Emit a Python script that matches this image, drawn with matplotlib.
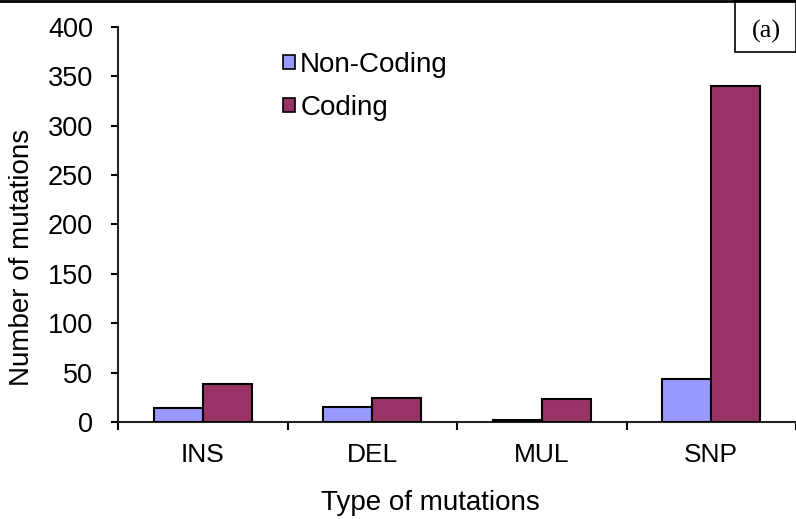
import matplotlib
matplotlib.use("Agg")
import matplotlib.pyplot as plt
import numpy as np
from matplotlib.patches import Rectangle, Patch
from matplotlib.lines import Line2D

categories = ["INS", "DEL", "MUL", "SNP"]
non_coding = [14, 15, 2, 44]
coding = [38, 24, 23, 340]
series_names = ["Non-Coding", "Coding"]
y_ticks = [0, 50, 100, 150, 200, 250, 300, 350, 400]

W, H = 796, 519
plt.rcParams['font.family'] = ['Liberation Sans', 'DejaVu Sans']
fig = plt.figure(figsize=(W / 100, H / 100), dpi=100)
ax = fig.add_axes([118 / W, 1 - 422 / H, (796 - 118) / W, (422 - 27) / H])

x = np.arange(len(categories))
bw = 0.29
c_nc = "#9999FF"
c_c = "#993366"
ax.bar(x - bw / 2, non_coding, bw, color=c_nc, edgecolor="black", linewidth=1.5, zorder=3)
ax.bar(x + bw / 2, coding, bw, color=c_c, edgecolor="black", linewidth=1.5, zorder=3)

ax.set_xlim(-0.5, len(categories) - 0.5)
ax.set_ylim(0, 400)
ax.set_yticks(y_ticks)
ax.set_yticklabels([str(v) for v in y_ticks], fontsize=19.5)
ax.set_xticks(np.arange(len(categories) + 1) - 0.5)
ax.set_xticklabels([])
ax.set_xticks(x, minor=True)
ax.set_xticklabels(categories, minor=True, fontsize=19)
ax.tick_params(axis='x', which='minor', length=0, pad=15)
ax.tick_params(axis='x', which='major', length=6, width=1.5, direction='out')
ax.tick_params(axis='y', length=5, width=1.5, direction='out', pad=13)
for s in ['top', 'right']:
    ax.spines[s].set_visible(False)
for s in ['left', 'bottom']:
    ax.spines[s].set_linewidth(1.5)
    ax.spines[s].set_color("#222222")
ax.spines['left'].set_zorder(4)

fig.text(430 / W, 1 - 503 / H, "Type of mutations", ha='center', va='center', fontsize=20)
fig.text(22 / W, 1 - 257 / H, "Number of mutations", ha='center', va='center',
         rotation=90, fontsize=20)

handles = [Patch(facecolor=c_nc, edgecolor='black', linewidth=1.2),
           Patch(facecolor=c_c, edgecolor='black', linewidth=1.2)]
fig.legend(handles, series_names, loc='upper left', bbox_to_anchor=(283 / W, 1 - 52 / H),
           frameon=False, fontsize=20, handlelength=0.42, handleheight=0.42,
           handletextpad=0.2, labelspacing=0.6, borderpad=0, borderaxespad=0)

# top frame line and panel label box
fig.add_artist(Line2D([0, 1], [1 - 1 / H, 1 - 1 / H], transform=fig.transFigure,
                      color='black', linewidth=2))
fig.add_artist(Rectangle((735 / W, 1 - 52 / H), (W - 735) / W, 52 / H,
                         transform=fig.transFigure, facecolor='white',
                         edgecolor='black', linewidth=1.2))
fig.text(766 / W, 1 - 31 / H, "(a)", ha='center', va='center', fontsize=19,
         family=['Liberation Serif', 'DejaVu Serif'])

fig.savefig("out.png", dpi=100)
